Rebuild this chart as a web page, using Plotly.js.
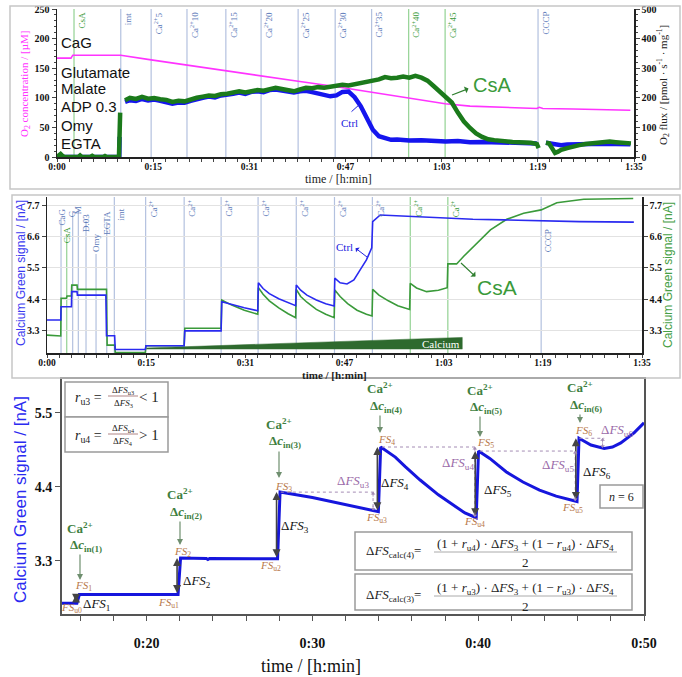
<!DOCTYPE html>
<html><head><meta charset="utf-8">
<script src="https://cdn.plot.ly/plotly-3.0.1.min.js"></script>
<style>html,body{margin:0;padding:0;background:#fff}#chart{width:682px;height:677px}</style>
</head><body><div id="chart"></div>
<script>
// ================= DATA =================
const timeTickVals = [0, 95/6, 2*95/6, 3*95/6, 4*95/6, 5*95/6, 95];
const timeTickText = ['0:00','0:15','0:31','0:47','1:03','1:19','1:35'];

// Panel 1: O2 concentration (left axis, µM)
const p1Conc = [[0,167],[2.3,167],[2.6,172],[10.5,172],[15.5,164],[21.4,155.5],[27.8,146],[33.6,137],[39.7,128],[45.8,119],[51.8,109],[57.9,99],[63.9,90],[68,86],[72,84.5],[76,83],[79,82],[79.4,84],[80,82],[85,81],[90,80],[94.4,79]];
// Panel 1: O2 flux (right axis)
const p1FluxCtrl = [[0,0],[10.25,0],[10.3,68],[10.32,null],[11.2,186],[12,192],[13,189],[14,196],[15,191],[16,194],[17,190],[18,186],[19,180],[20,184],[21,183],[22,190],[23,196],[24,200],[25,204],[26,201],[27,208],[28,210],[29,214],[30,218],[31,213],[32,220],[33,222],[34,219],[35,226],[36,228],[37,224],[38,220],[39,218],[40,222],[41,224],[42,219],[43,214],[44,210],[45,205],[46,208],[47,220],[48,221],[49,202],[50,172],[51,130],[52,92],[53,70],[54,62],[55,58],[56,59],[58,56],[60,57],[62,55],[64,52],[66,54],[68,50],[70,51],[72,50],[74,49],[76,48],[78,47],[79,46],[79.3,null],[80.5,48],[82,44],[83,40],[84,42],[86,44],[88,43],[90,45],[92,44],[94.4,43]];
const p1FluxCsA = [[0,0],[0.3,6],[0.6,10],[0.9,4],[1.2,0],[3.5,0],[3.8,5],[4.1,0],[5.5,0],[5.8,4],[6.1,0],[7.6,0],[7.9,3],[8.2,0],[10.2,0],[10.4,150],[10.45,null],[11.2,192],[12,200],[13,196],[14,203],[15,197],[16,199],[17,195],[18,193],[19,186],[20,190],[21,188],[22,195],[23,200],[24,204],[25,208],[26,206],[27,212],[28,214],[29,218],[30,222],[31,218],[32,224],[33,226],[34,224],[35,230],[36,234],[37,230],[38,226],[39,222],[40,228],[41,234],[42,232],[43,236],[44,234],[45,238],[46,242],[47,244],[48,242],[49,246],[50,250],[51,252],[52,256],[53,262],[54,270],[55,266],[56,268],[57,272],[58,268],[59,274],[60,268],[61,258],[62,240],[63,222],[64,206],[65,184],[66,150],[67,120],[68,98],[69,80],[70,68],[71,60],[72,57],[73,54],[74,52],[75,51],[76,50],[77,50],[78,48],[79,44],[79.3,30],[79.5,null],[80.5,48],[81,46],[81.5,30],[82,14],[82.5,18],[83,24],[84,30],[85,36],[86,40],[87,44],[88,46],[89,48],[90,50],[91,52],[92,50],[93,48],[94.5,46]];
const p1EventT = [2.8, 10.5, 15.5, 21.4, 27.8, 33.6, 39.7, 45.8, 51.8, 57.9, 63.9, 79.2];
const p1EventLbl = ['CsA','imt','Ca<sup>2+</sup>5','Ca<sup>2+</sup>10','Ca<sup>2+</sup>15','Ca<sup>2+</sup>20','Ca<sup>2+</sup>25','Ca<sup>2+</sup>30','Ca<sup>2+</sup>35','Ca<sup>2+</sup>40','Ca<sup>2+</sup>45','CCCP'];
const p1EventGreen = [1,0,0,0,0,0,0,0,0,1,1,0];
const p1Substrates = ['CaG','Glutamate','Malate','ADP 0.3','Omy','EGTA'];

// Panel 2: Calcium Green signal (nA)
const p2Ctrl = [[0,3.68],[2.2,3.68],[2.25,4.14],[3.9,4.14],[3.95,4.67],[4.8,4.67],[4.85,4.55],[9.4,4.55],[9.5,3.13],[10.8,3.13],[10.9,2.65],[15.7,2.65],[15.8,2.78],[21.9,2.78],[22.0,3.30],[27.8,3.30],[27.9,4.32],[29.5,4.22],[31.5,4.11],[33.65,4.0],[33.75,4.98],[34.5,4.78],[35.5,4.6],[37,4.42],[38.5,4.28],[39.7,4.18],[39.8,4.9],[40.5,4.72],[41.5,4.55],[43,4.38],[44.5,4.25],[45.85,4.17],[45.95,5.14],[46.8,4.98],[47.9,4.94],[49,5.08],[50,5.43],[51,5.78],[51.85,6.2],[52.0,7.12],[53.2,7.35],[55,7.33],[57.5,7.29],[62,7.24],[68,7.2],[73,7.18],[78.8,7.15],[85,7.12],[93.7,7.1]];
const p2CsA = [[0,3.15],[2.2,3.12],[2.25,4.44],[3.1,4.44],[3.2,4.52],[3.9,4.52],[3.95,4.9],[4.8,4.9],[4.85,4.75],[9.5,4.75],[9.6,2.8],[10.8,2.8],[10.9,2.54],[15.7,2.54],[15.8,2.78],[21.9,2.78],[22.0,3.39],[27.8,3.39],[27.9,4.38],[29.5,4.2],[31.5,4.02],[33.65,3.88],[33.75,4.81],[34.5,4.58],[35.5,4.35],[37,4.1],[38.5,3.9],[39.7,3.76],[39.8,4.75],[40.5,4.5],[41.5,4.3],[43,4.05],[44.5,3.88],[45.85,3.76],[45.95,4.73],[46.8,4.5],[48,4.25],[49.5,4.02],[51,3.88],[51.9,3.82],[52.0,4.75],[53,4.55],[54.5,4.35],[56,4.18],[57.9,4.05],[58.0,4.96],[59,4.8],[60.6,4.67],[62.5,4.72],[63.9,4.81],[64.0,5.64],[65.4,5.64],[66.5,5.9],[68.1,6.24],[70.8,6.83],[73.4,7.2],[76.1,7.41],[78.9,7.53],[81.4,7.78],[85.7,7.9],[93.6,7.93]];
const p2CaT = [15.75, 21.9, 27.8, 33.7, 39.8, 45.9, 51.95, 58.0, 64.0];
const p2CaGreen = [0,0,0,0,0,0,0,1,1];
const p2EarlyT = [2.24, 3.15, 4.1, 5.0, 6.23, 7.83, 9.54];
const p2EarlyLbl = ['CaG','CsA','G','M','D.03','Omy','EGTA'];
const p2EarlyGreen = [0,1,0,0,0,0,0];
const p2ImtT = 10.75, p2CcpT = 78.9;
const calciumWedgeT = [15.9, 15.9, 66.3, 66.3];
const calciumWedgeV = [2.66, 2.70, 3.07, 2.66];

// Panel 3: zoom of Ctrl
const p3Ctrl = [[14.9,2.67],[15.8,2.67],[15.95,2.80],[21.9,2.80],[22.05,3.34],[23.6,3.335],[23.7,3.32],[23.8,3.335],[27.9,3.33],[28.05,4.32],[30,4.24],[32,4.14],[33.98,4.03],[34.12,4.99],[35,4.84],[35.6,4.70],[36.5,4.5],[37.6,4.28],[38.5,4.13],[39.2,4.01],[39.88,3.94],[40.02,4.93],[40.7,4.82],[41.7,4.62],[42.7,4.47],[43.7,4.35],[44.7,4.26],[45.5,4.21],[45.96,4.18],[46.08,5.12],[46.4,5.07],[46.8,5.02],[47.6,4.97],[48.1,4.99],[48.6,5.05],[49.4,5.2],[50,5.35]];
const p3StepT  = [15.88, 21.97, 27.97, 34.05, 39.95, 46.02];
const p3StepLo = [2.67, 2.80, 3.33, 4.03, 3.94, 4.18];
const p3StepHi = [2.80, 3.34, 4.32, 4.99, 4.93, 5.12];

// ================= LAYOUT HELPERS =================
const W = 682, H = 677;
const SERIF = 'Liberation Serif, DejaVu Serif, serif';
const SANS = 'Liberation Sans, Arial, sans-serif';
const px = x => x / W, py = y => 1 - y / H;
const xs = a => a.map(p => p[0]), ys = a => a.map(p => p[1]);
const ann = [], shp = [];
function A(x, y, text, o) {
  ann.push(Object.assign({xref:'paper', yref:'paper', x:px(x), y:py(y), text:text, showarrow:false,
    xanchor:'center', yanchor:'middle', font:{family:SERIF, size:10, color:'#000'}}, o || {}));
}
function R(x0, y0, x1, y1, col, w, fill) {
  shp.push({type:'rect', xref:'paper', yref:'paper', x0:px(x0), y0:py(y0), x1:px(x1), y1:py(y1),
    line:{color:col, width:w}, fillcolor:fill || 'rgba(0,0,0,0)', layer:'above'});
}
function L(x0, y0, x1, y1, col, w, dash) {
  shp.push({type:'line', xref:'paper', yref:'paper', x0:px(x0), y0:py(y0), x1:px(x1), y1:py(y1),
    line:{color:col, width:w, dash:dash || 'solid'}, layer:'above'});
}
const lineBlue = '#b3c1df', lineGreen = '#93d293', lblBlue = '#5a78b8', lblGreen = '#3a9a3a';
const minorTime = Array.from({length:49}, (_, i) => i * 95 / 48);
const tickFontSm = {family:SERIF, size:10, color:'#111', weight:'bold'};

// ---------- Panel borders ----------
R(10, 6, 680, 189, '#c6c6c6', 1.5);
R(12, 195, 680, 378, '#c6c6c6', 1.5);

// ---------- Panel 1 ----------
p1EventT.forEach((t, i) => {
  shp.push({type:'line', xref:'x', yref:'y domain', x0:t, x1:t, y0:0, y1:1, layer:'below',
    line:{color: p1EventGreen[i] ? lineGreen : lineBlue, width:1.2}});
  ann.push({xref:'x', yref:'paper', x:t, y:py(10), xshift:7, text:p1EventLbl[i], showarrow:false,
    textangle:-90, xanchor:'center', yanchor:'top',
    font:{family:SERIF, size:9, color: p1EventGreen[i] ? lblGreen : lblBlue}});
});
[42, 72, 89, 107, 125, 143].forEach((y, i) =>
  A(59, y, p1Substrates[i], {xanchor:'left', font:{family:SANS, size:15, color:'#111'}}));
A(25, 84, 'O<sub>2</sub> concentration / [µM]', {textangle:-90, font:{family:SERIF, size:11, color:'#ff33ff'}});
A(663, 85, 'O<sub>2</sub> flux / [pmol · s<sup>-1</sup> · mg<sup>-1</sup>]', {textangle:-90, font:{family:SERIF, size:11, color:'#222'}});
A(338, 179, 'time / [h:min]', {font:{family:SERIF, size:12, color:'#222'}});
A(492, 85, 'CsA', {font:{family:SANS, size:20, color:lblGreen}});
ann.push({xref:'paper', yref:'paper', x:px(452), y:py(95), ax:18, ay:-7, text:'', showarrow:true,
  arrowside:'start', arrowhead:2, arrowsize:1, arrowwidth:1.2, arrowcolor:'#2f7f2f'});
A(349, 123, 'Ctrl', {font:{family:SERIF, size:11, color:'#2222dd'}});
ann.push({xref:'paper', yref:'paper', x:px(360), y:py(104), ax:-10, ay:9, text:'', showarrow:true,
  arrowhead:0, arrowwidth:1, arrowcolor:'#2222dd'});

// ---------- Panel 2 ----------
const p2Bot = py(353), p2Top = py(197);
p2CaT.forEach((t, i) => {
  shp.push({type:'line', xref:'x2', yref:'paper', x0:t, x1:t, y0:p2Bot, y1:p2Top, layer:'below',
    line:{color: p2CaGreen[i] ? lineGreen : lineBlue, width:1.2}});
  ann.push({xref:'x2', yref:'paper', x:t, y:py(198), xshift:7, text:'Ca<sup>2+</sup>', showarrow:false,
    textangle:-90, xanchor:'center', yanchor:'top',
    font:{family:SERIF, size:9, color: p2CaGreen[i] ? lblGreen : lblBlue}});
});
[[p2ImtT, 'imt', 206, 7], [p2CcpT, 'CCCP', 241, 7]].forEach(e => {
  shp.push({type:'line', xref:'x2', yref:'paper', x0:e[0], x1:e[0], y0:p2Bot, y1:p2Top, layer:'below',
    line:{color:lineBlue, width:1.2}});
  ann.push({xref:'x2', yref:'paper', x:e[0], y:py(e[2]), xshift:e[3], text:e[1], showarrow:false,
    textangle:-90, font:{family:SERIF, size:9, color:lblBlue}});
});
const earlyCy = [207, 224, 208, 204, 212, 243, 209];
const earlyTop = [218, 234, 213, 209, 221, 254, 222];
p2EarlyT.forEach((t, i) => {
  const g = p2EarlyGreen[i];
  shp.push({type:'line', xref:'x2', yref:'paper', x0:t, x1:t, y0:p2Bot, y1:py(earlyTop[i]), layer:'below',
    line:{color: g ? lineGreen : lineBlue, width:1.2}});
  ann.push({xref:'x2', yref:'paper', x:t, y:py(earlyCy[i]), text:p2EarlyLbl[i], showarrow:false,
    textangle:-90, font:{family:SERIF, size:9, color: g ? lblGreen : lblBlue}});
});
A(21, 273, 'Calcium Green signal / [nA]', {textangle:-90, font:{family:SANS, size:12, color:'#3b3bf0'}});
A(668, 275, 'Calcium Green signal / [nA]', {textangle:-90, font:{family:SANS, size:12, color:'#46a046'}});
A(334, 375, 'time / [h:min]', {font:{family:SERIF, size:11, color:'#222', weight:'bold'}});
A(441, 344, 'Calcium', {font:{family:SERIF, size:11, color:'#ffffff'}});
A(497, 287, 'CsA', {font:{family:SANS, size:21, color:lblGreen}});
ann.push({xref:'paper', yref:'paper', x:px(461), y:py(263), ax:16, ay:15, text:'', showarrow:true,
  arrowside:'start', arrowhead:2, arrowsize:1, arrowwidth:1.2, arrowcolor:'#2f7f2f'});
A(344, 247, 'Ctrl', {font:{family:SERIF, size:11, color:'#2222dd'}});
ann.push({xref:'paper', yref:'paper', x:px(367), y:py(257), ax:-13, ay:-10, text:'', showarrow:true,
  arrowside:'start', arrowhead:2, arrowsize:0.8, arrowwidth:1, arrowcolor:'#2222dd'});

// ---------- Panel 3 ----------
A(20, 500, 'Calcium Green signal / [nA]', {textangle:-90, font:{family:SANS, size:17, color:'#2a2af0'}});
A(311, 666, 'time / [h:min]', {font:{family:SERIF, size:18, color:'#111'}});
// ratio boxes
R(65, 382, 168, 417, '#9a9a9a', 1.5, '#fff');
R(65, 417, 168, 452, '#9a9a9a', 1.5, '#fff');
[[398, 'u3', '3', '&lt; 1'], [436, 'u4', '4', '&gt; 1']].forEach(r => {
  A(88, r[0], '<i>r</i><sub>' + r[1] + '</sub> =', {font:{family:SERIF, size:14, color:'#222'}});
  A(123, r[0] - 8, 'Δ<i>FS</i><sub>' + r[1] + '</sub>', {font:{family:SERIF, size:9, color:'#222'}});
  L(108, r[0] - 2, 138, r[0] - 2, '#b08585', 1);
  A(123, r[0] + 5, 'Δ<i>FS</i><sub>' + r[2] + '</sub>', {font:{family:SERIF, size:9, color:'#222'}});
  A(149, r[0] - 1, r[3], {font:{family:SERIF, size:15, color:'#222'}});
});
// n = 6
R(600, 485, 643, 508, '#9a9a9a', 1.5, '#fff');
A(621, 497, '<i>n</i> = 6', {font:{family:SERIF, size:12, color:'#222'}});
// calc boxes
R(355, 532, 632, 570, '#9a9a9a', 1.5, '#fff');
R(355, 574, 632, 610, '#9a9a9a', 1.5, '#fff');
[[551, '4', 'u4'], [595, '3', 'u3']].forEach(c => {
  A(393, c[0], 'Δ<i>FS</i><sub>calc(' + c[1] + ')</sub>=', {font:{family:SERIF, size:13, color:'#222'}});
  A(525, c[0] - 7, '(1 + <i>r</i><sub>' + c[2] + '</sub>) · Δ<i>FS</i><sub>3</sub> + (1 − <i>r</i><sub>' + c[2] + '</sub>) · Δ<i>FS</i><sub>4</sub>',
    {font:{family:SERIF, size:13, color:'#222'}});
  L(434, c[0] + 1, 617, c[0] + 1, '#aaa', 1);
  A(525, c[0] + 11, '2', {font:{family:SERIF, size:13, color:'#222'}});
});
// Ca2+ additions
const caGroups = [[80, 528, 545, 553, 580], [180, 494, 512, 520, 545], [279, 424, 441, 450, 478],
                  [380, 388, 406, 414, 433], [480, 390, 407, 415, 437], [580, 387, 405, 413, 423]];
caGroups.forEach((g, i) => {
  A(g[0], g[1], '<b>Ca<sup>2+</sup></b>', {font:{family:SERIF, size:13, color:'#3f7f3f'}});
  A(g[0] + 6, g[2], '<b>Δ<i>c</i><sub>in(' + (i + 1) + ')</sub></b>', {font:{family:SERIF, size:13, color:'#3f7f3f'}});
  ann.push({xref:'paper', yref:'paper', x:px(g[0]), y:py(g[4]), ax:0, ay:-(g[4] - g[3]), text:'', showarrow:true,
    arrowhead:2, arrowsize:1, arrowwidth:1.2, arrowcolor:'#6f8f6f'});
});
// FS labels
const fsLbl = [['u0',71,608],['1',83,586],['u1',168,603],['2',182,552],['u2',270,566],['3',283,487],
               ['u3',377,518],['4',386,440],['u4',474,522],['5',485,443],['u5',572,508],['6',583,431]];
fsLbl.forEach(f => A(f[1], f[2], '<i>FS</i><sub>' + f[0] + '</sub>', {font:{family:SERIF, size:11, color:'#b8784a'}}));
const dfsLbl = [[96,604],[197,581],[295,526],[395,483],[498,490],[597,472]];
dfsLbl.forEach((d, i) => A(d[0], d[1], 'Δ<i>FS</i><sub>' + (i + 1) + '</sub>', {font:{family:SERIF, size:13, color:'#111'}}));
const dfsuLbl = [['u3',353,482],['u4',458,463],['u5',558,465],['u6',617,430]];
dfsuLbl.forEach(d => A(d[1], d[2], 'Δ<i>FS</i><sub>' + d[0] + '</sub>', {font:{family:SERIF, size:13, color:'#9a6aa8'}}));
// ΔFS step arrows
p3StepT.forEach((t, i) => {
  ann.push({xref:'x3', yref:'y5', x:t - 0.13, y:p3StepHi[i], axref:'x3', ayref:'y5', ax:t - 0.13, ay:p3StepLo[i],
    text:'', showarrow:true, arrowside:'end+start', arrowhead:2, arrowsize:1, arrowwidth:1.6, arrowcolor:'#444', standoff:0, startstandoff:0});
});
// dotted purple guides: [x0, x1, level, xVert, lowLevel]
const guides = [[28.1, 33.8, 4.32, 33.66, 4.05], [34.2, 39.85, 4.99, 39.8, 3.95],
                [40.1, 45.9, 4.93, 45.85, 4.19], [46.1, 47.6, 5.12, 47.5, 4.98]];
guides.forEach(g => {
  shp.push({type:'line', xref:'x3', yref:'y5', x0:g[0], x1:g[1], y0:g[2], y1:g[2], line:{color:'#a48cb4', width:1, dash:'dot'}, layer:'above'});
  shp.push({type:'line', xref:'x3', yref:'y5', x0:g[3], x1:g[3], y0:g[2], y1:g[4], line:{color:'#a48cb4', width:1, dash:'dot'}, layer:'above'});
  ann.push({xref:'x3', yref:'y5', x:g[3], y:g[2], ax:0, ay:6, text:'', showarrow:true, arrowhead:1, arrowsize:1, arrowwidth:0.8, arrowcolor:'#a48cb4', standoff:0});
  ann.push({xref:'x3', yref:'y5', x:g[3], y:g[4], ax:0, ay:-6, text:'', showarrow:true, arrowhead:1, arrowsize:1, arrowwidth:0.8, arrowcolor:'#a48cb4', standoff:0});
});

// ================= TRACES =================
const traces = [
  {x:xs(p1Conc), y:ys(p1Conc), xaxis:'x', yaxis:'y', mode:'lines', line:{color:'#ff33ff', width:1.6}},
  {x:xs(p1FluxCtrl), y:ys(p1FluxCtrl), xaxis:'x', yaxis:'y2', mode:'lines', line:{color:'#1515ee', width:4.5}},
  {x:xs(p1FluxCsA), y:ys(p1FluxCsA), xaxis:'x', yaxis:'y2', mode:'lines', line:{color:'#1b7a1b', width:4.5}},
  {x:calciumWedgeT, y:calciumWedgeV, xaxis:'x2', yaxis:'y3', mode:'lines', fill:'toself', fillcolor:'#2e6a2e', line:{color:'#2e6a2e', width:0.5}},
  {x:xs(p2CsA), y:ys(p2CsA), xaxis:'x2', yaxis:'y3', mode:'lines', line:{color:'#3a9a3a', width:1.6}},
  {x:xs(p2Ctrl), y:ys(p2Ctrl), xaxis:'x2', yaxis:'y3', mode:'lines', line:{color:'#2a2af0', width:1.6}},
  {x:[0], y:[null], xaxis:'x2', yaxis:'y4', mode:'lines'},
  {x:xs(p3Ctrl), y:ys(p3Ctrl), xaxis:'x3', yaxis:'y5', mode:'lines', line:{color:'#1616dd', width:3}}
];

// major tick marks come from the minor set (which includes the major positions); no major tick length so labels sit close
const timeAxis = (dom, anchor) => ({domain:dom, range:[0, 95], anchor:anchor, tickmode:'array', tickvals:timeTickVals,
  ticktext:timeTickText, ticks:'', showline:true, linecolor:'#222', linewidth:1.5,
  showgrid:false, zeroline:false, tickfont:{family:SERIF, size:9.5, color:'#111', weight:'bold'},
  minor:{tickmode:'array', tickvals:minorTime, ticks:'outside', ticklen:3, tickcolor:'#444'}});
const cgTicks = [3.3, 4.4, 5.5, 6.6, 7.7];

const layout = {
  width:W, height:H, margin:{l:0, r:0, t:0, b:0}, paper_bgcolor:'#fff', plot_bgcolor:'rgba(0,0,0,0)',
  showlegend:false, hovermode:false,
  xaxis: timeAxis([px(57), px(634)], 'y'),
  yaxis: {domain:[py(157), py(9)], range:[0, 250], anchor:'x', tickvals:[0,50,100,150,200,250], ticks:'outside', ticklen:4,
    showline:true, linecolor:'#222', linewidth:1.5, showgrid:false, zeroline:false, tickfont:tickFontSm,
    minor:{dtick:10, ticks:'outside', ticklen:2, tickcolor:'#444'}},
  yaxis2: {overlaying:'y', side:'right', anchor:'x', range:[0, 500], tickvals:[0,100,200,300,400,500], ticks:'outside', ticklen:4,
    showline:true, linecolor:'#222', linewidth:1.5, showgrid:false, zeroline:false, tickfont:tickFontSm,
    minor:{dtick:20, ticks:'outside', ticklen:2, tickcolor:'#444'}},
  xaxis2: timeAxis([px(47), px(642)], 'y3'),
  yaxis3: {domain:[py(353), py(197)], range:[2.525, 7.98], anchor:'x2', tickvals:cgTicks, ticktext:cgTicks.map(v => v.toFixed(1)),
    ticks:'outside', ticklen:4, showline:true, linecolor:'#222', linewidth:1.5, showgrid:true, gridcolor:'#e2e2e2',
    zeroline:false, tickfont:tickFontSm},
  yaxis4: {overlaying:'y3', side:'right', anchor:'x2', range:[2.525, 7.98], tickvals:cgTicks, ticktext:cgTicks.map(v => v.toFixed(1)),
    ticks:'outside', ticklen:4, showline:true, linecolor:'#222', linewidth:1.5, showgrid:false, zeroline:false, tickfont:tickFontSm},
  xaxis3: {domain:[px(62), px(644)], range:[14.9, 50], anchor:'y5', tickmode:'array', tickvals:[20,30,40,50],
    ticktext:['0:20','0:30','0:40','0:50'], ticks:'outside', ticklen:5, tickcolor:'#555', showline:true, mirror:true,
    linecolor:'#555', linewidth:2, showgrid:false, zeroline:false, ticklabelstandoff:10,
    tickfont:{family:SERIF, size:14, color:'#111', weight:'bold'},
    minor:{tickmode:'linear', tick0:0, dtick:2, ticks:'outside', ticklen:5, tickcolor:'#555'}},
  yaxis5: {domain:[py(614), py(379)], range:[2.51, 6.0], anchor:'x3', tickvals:[3.3,4.4,5.5], ticktext:['3.3','4.4','5.5'],
    ticks:'outside', ticklen:5, tickcolor:'#555', showline:true, mirror:true, linecolor:'#555', linewidth:2,
    showgrid:false, zeroline:false, tickfont:{family:SERIF, size:14, color:'#111', weight:'bold'}},
  annotations: ann, shapes: shp
};
Plotly.newPlot('chart', traces, layout, {staticPlot:true, displayModeBar:false});
</script></body></html>
